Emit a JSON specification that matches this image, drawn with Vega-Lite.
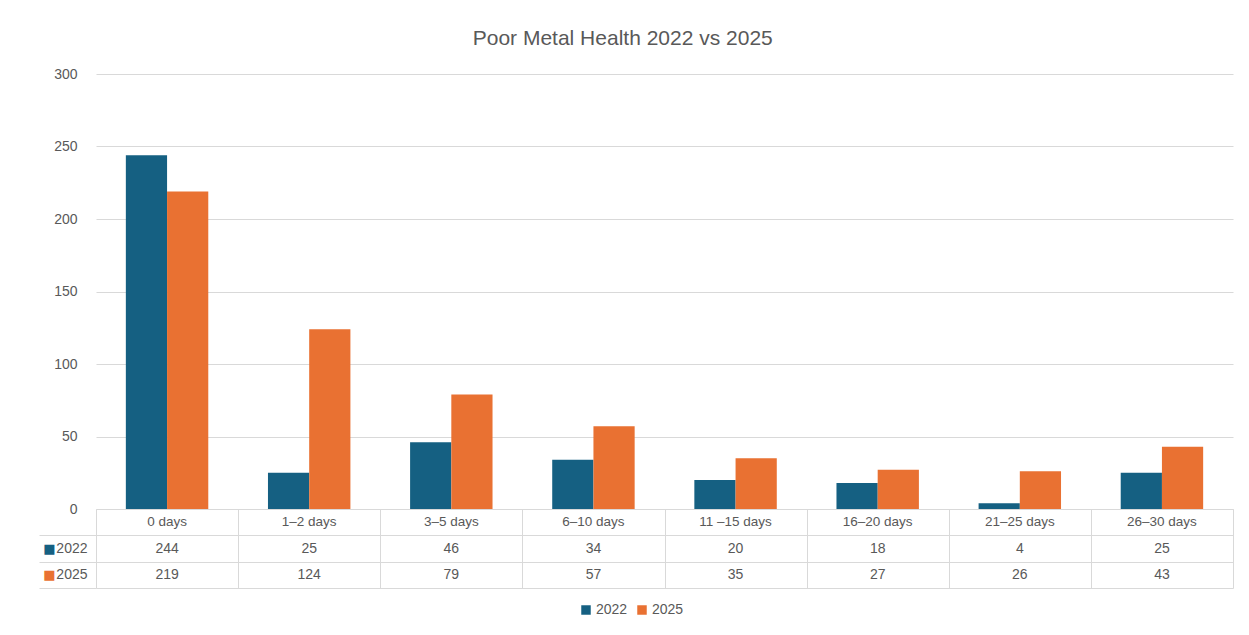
{
  "$schema": "https://vega.github.io/schema/vega-lite/v6.json",
  "background": "white",
  "padding": {"left": 38, "top": 28, "right": 10, "bottom": 5},
  "title": {"text": "Poor Metal Health 2022 vs 2025", "fontSize": 21, "font": "Liberation Sans", "color": "#595959", "fontWeight": "normal", "anchor": "middle", "offset": 18, "dx": -13},
  "datasets": {
    "vals": [
      {"cat": "0 days", "year": "2022", "value": 244},
      {"cat": "0 days", "year": "2025", "value": 219},
      {"cat": "1–2 days", "year": "2022", "value": 25},
      {"cat": "1–2 days", "year": "2025", "value": 124},
      {"cat": "3–5 days", "year": "2022", "value": 46},
      {"cat": "3–5 days", "year": "2025", "value": 79},
      {"cat": "6–10 days", "year": "2022", "value": 34},
      {"cat": "6–10 days", "year": "2025", "value": 57},
      {"cat": "11 –15 days", "year": "2022", "value": 20},
      {"cat": "11 –15 days", "year": "2025", "value": 35},
      {"cat": "16–20 days", "year": "2022", "value": 18},
      {"cat": "16–20 days", "year": "2025", "value": 27},
      {"cat": "21–25 days", "year": "2022", "value": 4},
      {"cat": "21–25 days", "year": "2025", "value": 26},
      {"cat": "26–30 days", "year": "2022", "value": 25},
      {"cat": "26–30 days", "year": "2025", "value": 43}
    ],
    "cats": [
      {"cat": "0 days", "row": "header"},
      {"cat": "1–2 days", "row": "header"},
      {"cat": "3–5 days", "row": "header"},
      {"cat": "6–10 days", "row": "header"},
      {"cat": "11 –15 days", "row": "header"},
      {"cat": "16–20 days", "row": "header"},
      {"cat": "21–25 days", "row": "header"},
      {"cat": "26–30 days", "row": "header"}
    ]
  },
  "spacing": 0,
  "bounds": "flush",
  "vconcat": [
    {
      "width": 1137,
      "height": 435,
      "data": {"name": "vals"},
      "mark": {"type": "bar"},
      "encoding": {
        "x": {"field": "cat", "type": "nominal", "sort": ["0 days", "1–2 days", "3–5 days", "6–10 days", "11 –15 days", "16–20 days", "21–25 days", "26–30 days"], "scale": {"paddingInner": 0.42, "paddingOuter": 0.21}, "axis": null},
        "xOffset": {"field": "year", "type": "nominal", "scale": {"paddingInner": 0}},
        "y": {"field": "value", "type": "quantitative", "scale": {"domain": [0, 300]}, "axis": {"values": [0, 50, 100, 150, 200, 250, 300], "title": null, "domain": false, "ticks": false, "labelPadding": 19, "gridColor": "#d9d9d9", "labelColor": "#595959", "labelFontSize": 14, "labelFont": "Liberation Sans"}},
        "color": {"field": "year", "type": "nominal", "scale": {"domain": ["2022", "2025"], "range": ["#156082", "#E97132"]}, "legend": {"orient": "none", "legendX": 483, "legendY": 529, "direction": "horizontal", "title": null, "symbolType": "square", "symbolSize": 90, "symbolStrokeWidth": 0, "labelFontSize": 14, "labelColor": "#595959", "labelFont": "Liberation Sans", "columnPadding": 7, "labelOffset": 3}}
      }
    },
    {
      "width": 1137,
      "height": 79,
      "resolve": {"scale": {"y": "independent"}, "axis": {"y": "independent"}},
      "layer": [
        {
          "data": {"name": "vals"},
          "mark": {"type": "text", "fontSize": 14, "color": "#595959", "font": "Liberation Sans"},
          "encoding": {
            "x": {"field": "cat", "type": "nominal", "sort": ["0 days", "1–2 days", "3–5 days", "6–10 days", "11 –15 days", "16–20 days", "21–25 days", "26–30 days"], "scale": {"paddingInner": 0, "paddingOuter": 0}, "axis": {"orient": "bottom", "title": null, "labels": false, "ticks": false, "domain": false, "grid": true, "tickBand": "extent", "gridColor": "#d9d9d9"}},
            "y": {"field": "year", "type": "nominal", "scale": {"domain": ["header", "2022", "2025"], "paddingInner": 0, "paddingOuter": 0}, "axis": {"orient": "left", "title": null, "labelExpr": "datum.value === 'header' ? '' : datum.value", "tickBand": "extent", "grid": true, "gridColor": "#d9d9d9", "tickColor": {"condition": {"test": "datum.extra", "value": "transparent"}, "value": "#d9d9d9"}, "tickSize": 57, "labelPadding": -48, "domain": false, "labelFontSize": 14, "labelColor": "#595959", "labelFont": "Liberation Sans"}},
            "text": {"field": "value", "type": "quantitative"}
          }
        },
        {
          "data": {"name": "cats"},
          "mark": {"type": "text", "fontSize": 13.5, "color": "#595959", "font": "Liberation Sans"},
          "encoding": {
            "x": {"field": "cat", "type": "nominal", "sort": ["0 days", "1–2 days", "3–5 days", "6–10 days", "11 –15 days", "16–20 days", "21–25 days", "26–30 days"]},
            "y": {"field": "row", "type": "nominal", "scale": {"domain": ["header", "2022", "2025"], "paddingInner": 0, "paddingOuter": 0}, "axis": null},
            "text": {"field": "cat", "type": "nominal"}
          }
        },
        {
          "data": {"name": "vals"},
          "mark": {"type": "text", "text": ""},
          "encoding": {
            "x": {"field": "cat", "type": "nominal", "sort": ["0 days", "1–2 days", "3–5 days", "6–10 days", "11 –15 days", "16–20 days", "21–25 days", "26–30 days"]},
            "y": {"field": "year", "type": "nominal", "scale": {"domain": ["header", "2022", "2025"], "paddingInner": 0, "paddingOuter": 0}, "axis": {"orient": "left", "title": null, "labelExpr": "datum.value === 'header' ? '' : '■'", "ticks": false, "domain": false, "grid": false, "labelFontSize": 13, "labelFont": "DejaVu Sans", "labelColor": {"condition": {"test": "datum.value === '2022'", "value": "#156082"}, "value": "#E97132"}, "labelPadding": 41, "offset": 0}}
          }
        }
      ]
    }
  ],
  "config": {"view": {"stroke": null}, "font": "Liberation Sans"}
}
